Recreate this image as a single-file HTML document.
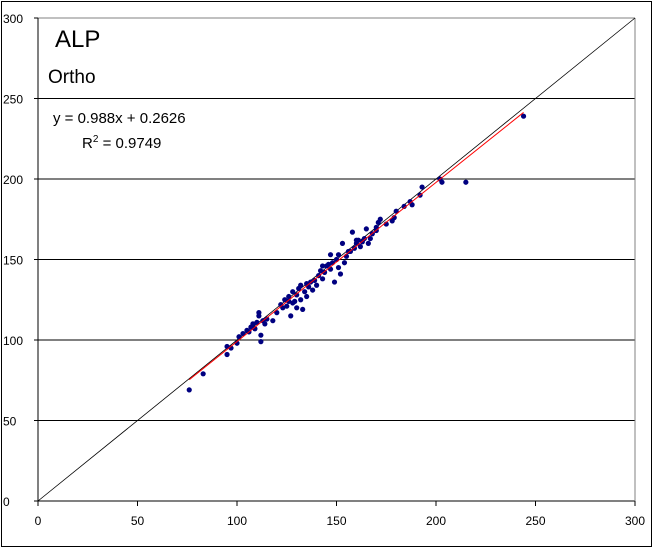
<!DOCTYPE html>
<html><head><meta charset="utf-8"><style>
html,body{margin:0;padding:0;background:#fff;}
svg{display:block;font-family:"Liberation Sans",Arial,sans-serif;}
</style></head><body>
<svg id="chart" width="655" height="551" viewBox="0 0 655 551">
<rect x="1.5" y="1.5" width="650" height="545" fill="#fff" stroke="#000"/>
<g id="grid"></g><g id="axes"></g><g id="marks"></g>
<text x="55" y="47" font-size="24">ALP</text>
<text x="48" y="83" font-size="19">Ortho</text>
<text x="53" y="123" font-size="15">y = 0.988x + 0.2626</text>
<text x="82" y="148" font-size="15">R<tspan dy="-6" font-size="10">2</tspan><tspan dy="6"> = 0.9749</tspan></text>
</svg>
<script>
const xVals=[76,83,95,95,97,100,101,103,105,107,108,109,110,111,111,112,112,113,114,115,120,122,124,125,126,127,128,128,129,130,130,131,132,133,134,135,135,136,137,138,139,140,141,142,143,144,145,146,147,147,148,149,150,151,151,152,153,155,157,158,159,160,161,162,163,164,165,166,167,168,170,171,172,175,178,179,180,184,187,188,192,193,202,203,215,244,156,154,118,123,106,132,160,170,126,143];
const yVals=[69,79,91,96,95,98,102,104,106,108,110,107,111,115,117,103,99,112,110,113,117,122,125,121,127,115,123,130,124,120,128,132,134,119,130,127,135,133,136,131,137,134,140,143,138,142,146,147,144,153,148,136,150,145,153,141,160,152,155,167,157,160,162,158,161,163,169,160,163,166,170,173,175,172,174,176,180,183,186,184,190,195,200,198,198,239,155,148,112,120,105,125,162,168,124,146];
const ticks=[0,50,100,150,200,250,300];
const slope=0.988, intercept=0.2626;
const X0=38,X1=635,Y0=501,Y1=18;
const sx=v=>X0+(X1-X0)*v/300, sy=v=>Y0-(Y0-Y1)*v/300;
const NS="http://www.w3.org/2000/svg";
function mk(t,a,p){const e=document.createElementNS(NS,t);for(const k in a)e.setAttribute(k,a[k]);p.appendChild(e);return e;}
const grid=document.getElementById('grid'),axes=document.getElementById('axes'),marks=document.getElementById('marks');
ticks.forEach(t=>{
 if(t>0){const g=mk('line',{x1:X0,x2:X1,y1:sy(t),y2:sy(t),stroke:t==300?'#808080':'#000','stroke-width':1},grid);
 
 }
 const yl=mk('text',{x:3,y:sy(t)+5,'font-size':12},axes);yl.textContent=t;
 
 
 const xl=mk('text',{x:sx(t),y:525,'font-size':12,'text-anchor':'middle'},axes);xl.textContent=t;
 
 
 const ty=mk('line',{x1:X0-4,x2:X0,y1:sy(t),y2:sy(t),stroke:'#000'},axes);
 
 
 const tx=mk('line',{x1:sx(t),x2:sx(t),y1:Y0,y2:Y0+5,stroke:'#000'},axes);
 
 
});
const ya=mk('line',{x1:X0,x2:X0,y1:Y1,y2:Y0,stroke:'#000'},axes);


const xa=mk('line',{x1:X0,x2:X1,y1:Y0,y2:Y0,stroke:'#000'},axes);


const rb=mk('line',{x1:X1,x2:X1,y1:Y1,y2:Y0,stroke:'#808080'},axes);


const id=mk('line',{x1:sx(0),y1:sy(0),x2:sx(300),y2:sy(300),stroke:'#000','stroke-width':0.8},marks);


xVals.forEach((x,i)=>{const c=mk('ellipse',{cx:sx(x),cy:sy(yVals[i]),rx:2.6,ry:2.6,fill:'#000080'},marks);
 
 });
const xmin=Math.min(...xVals),xmax=Math.max(...xVals);
const rl=mk('line',{x1:sx(xmin),y1:sy(slope*xmin+intercept),x2:sx(xmax),y2:sy(slope*xmax+intercept),stroke:'#ff0000','stroke-width':1},marks);


</script>
</body></html>
